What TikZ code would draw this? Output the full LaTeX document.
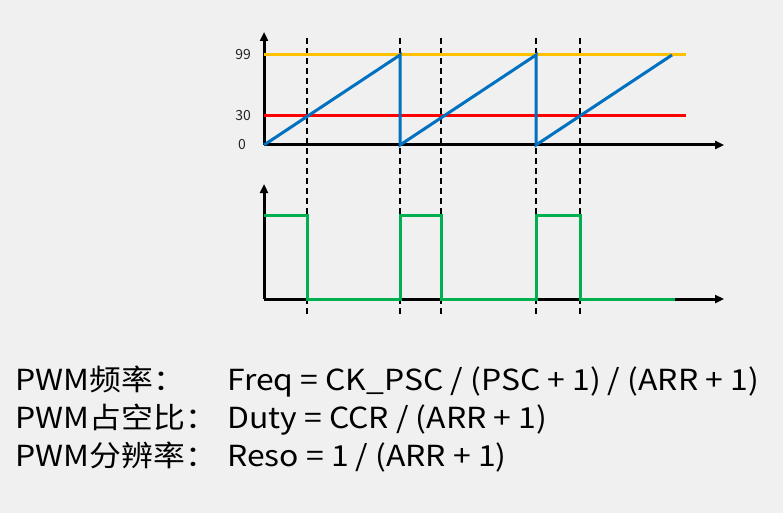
\documentclass[tikz,border=0pt]{standalone}
\usepackage{fontspec}
\setmainfont{Noto Sans CJK SC}
\newfontfamily\pwmfont{Noto Sans CJK SC}[FakeStretch=1.1]
\usetikzlibrary{positioning,arrows.meta,calc}
\definecolor{pwmBg}{RGB}{240,240,240}
\definecolor{pwmBlue}{RGB}{0,112,192}
\definecolor{pwmOrange}{RGB}{255,192,0}
\definecolor{pwmRed}{RGB}{255,0,0}
\definecolor{pwmGreen}{RGB}{0,176,80}
\definecolor{pwmText}{RGB}{38,38,38}
\tikzset{
    axis/.style={line width=3pt, -{Triangle[length=9pt,width=8pt]}},
    level/.style={line width=3pt},
    marker/.style={line width=1.6pt, dash pattern=on 6pt off 4pt},
    tick/.style={font=\fontsize{14}{16}\selectfont, text=pwmText, anchor=east, inner sep=0pt},
    formula/.style={font=\pwmfont\fontsize{29}{32}\selectfont, text=black, anchor=base west, inner sep=0pt}
}
\begin{document}
\begin{tikzpicture}[x=1pt, y=-1pt]
  \fill[pwmBg] (0,0) rectangle (783,513);
  \useasboundingbox (0,0) rectangle (783,513);

  % Origins
  \coordinate (cnt0) at (264,145);
  \coordinate (out0) at (264,299);

  % Compare instants
  \foreach \t in {307,400,441,536,580}
    \draw[marker] (\t,38) -- (\t,316);

  % Axes
  \draw[axis] (cnt0) -- (264,32);
  \draw[axis] (cnt0) -- (724,145);
  \draw[axis] (out0) -- (264,184);
  \draw[axis] (out0) -- (724,299);

  % Counter
  \node[tick] (lbl99) at (251,55) {99};
  \node[tick] (lbl30) at (251,116) {30};
  \node[tick] (lbl0) at (246,145) {0};
  \draw[level, pwmOrange] (264,55) -- (686,55);
  \draw[level, pwmRed] (264,116) -- (686,116);
  \draw[level, pwmBlue] (cnt0) -- (400,55) -- (400,145) -- (536,55) -- (536,145) -- (672,55);

  % PWM output
  \draw[level, pwmGreen] (264,215) -| (307,299) -| (400,215) -| (441,299)
    -| (536,215) -| (580,299) -- (675,299);

  % Formulas
  \node[formula] (freqL) at (15,390) {PWM频率：};
  \node[formula] (dutyL) at (15,428) {PWM占空比：};
  \node[formula] (resoL) at (15,466) {PWM分辨率：};
  \node[formula] (freq) at (227,390) {Freq = CK\_PSC / (PSC + 1) / (ARR + 1)};
  \node[formula] (duty) at (227,428) {Duty = CCR / (ARR + 1)};
  \node[formula] (reso) at (227,466) {Reso = 1 / (ARR + 1)};
\end{tikzpicture}
\end{document}
